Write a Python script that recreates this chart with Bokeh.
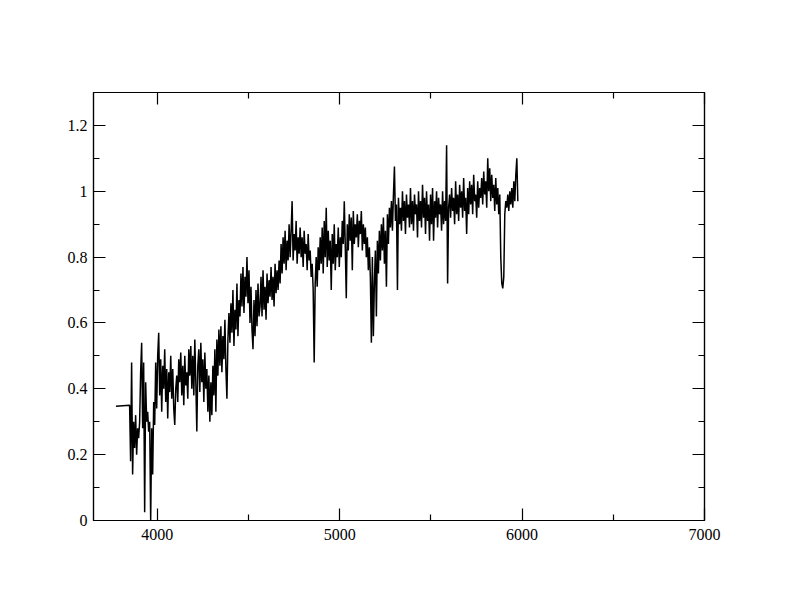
from bokeh.plotting import figure
from bokeh.models import Range1d, FixedTicker, LinearAxis, Label
from bokeh.embed import file_html
from bokeh.resources import INLINE

# ---- data (wavelength in Angstrom, normalised flux) ----
lead_wave = [3773.0]
lead_flux = [0.347]
wave_start = 3848.0
wave_step = 5.5
flux = [
    0.35, 0.18, 0.48, 0.14, 0.30, 0.22, 0.32, 0.20, 0.28, 0.25,
    0.30, 0.45, 0.54, 0.28, 0.48, 0.025, 0.42, 0.30, 0.33, 0.27,
    0.30, 0.00, 0.28, 0.14, 0.36, 0.29, 0.48, 0.34, 0.50, 0.57,
    0.38, 0.49, 0.33, 0.47, 0.40, 0.52, 0.36, 0.46, 0.31, 0.45,
    0.39, 0.50, 0.37, 0.46, 0.34, 0.29, 0.40, 0.44, 0.36, 0.49,
    0.42, 0.51, 0.38, 0.47, 0.35, 0.50, 0.41, 0.45, 0.37, 0.52,
    0.44, 0.53, 0.40, 0.50, 0.38, 0.55, 0.42, 0.27, 0.47, 0.52,
    0.39, 0.54, 0.42, 0.49, 0.36, 0.51, 0.40, 0.46, 0.33, 0.44,
    0.30, 0.42, 0.32, 0.47, 0.38, 0.52, 0.33, 0.55, 0.44, 0.58,
    0.47, 0.59, 0.45, 0.56, 0.49, 0.61, 0.46, 0.37, 0.55, 0.63,
    0.54, 0.66, 0.57, 0.70, 0.53, 0.64, 0.58, 0.72, 0.56, 0.67,
    0.62, 0.75, 0.65, 0.77, 0.63, 0.74, 0.68, 0.80, 0.66, 0.76,
    0.60, 0.71, 0.58, 0.52, 0.67, 0.56, 0.70, 0.59, 0.72, 0.62,
    0.65, 0.74, 0.62, 0.76, 0.64, 0.71, 0.61, 0.75, 0.66, 0.73,
    0.68, 0.77, 0.67, 0.74, 0.65, 0.78, 0.69, 0.76, 0.70, 0.79,
    0.72, 0.84, 0.75, 0.86, 0.78, 0.88, 0.76, 0.85, 0.79, 0.90,
    0.80, 0.88, 0.97, 0.79, 0.87, 0.82, 0.91, 0.78, 0.86, 0.81,
    0.89, 0.80, 0.86, 0.77, 0.88, 0.81, 0.84, 0.76, 0.87, 0.79,
    0.82, 0.74, 0.78, 0.70, 0.48, 0.72, 0.80, 0.71, 0.83, 0.76,
    0.86, 0.78, 0.89, 0.75, 0.91, 0.80, 0.95, 0.77, 0.88, 0.79,
    0.85, 0.70, 0.87, 0.78, 0.90, 0.76, 0.84, 0.80, 0.89, 0.77,
    0.86, 0.80, 0.91, 0.84, 0.97, 0.83, 0.675, 0.90, 0.82, 0.93,
    0.85, 0.92, 0.76, 0.94, 0.84, 0.90, 0.86, 0.93, 0.83, 0.91,
    0.87, 0.94, 0.82, 0.90, 0.84, 0.89, 0.80, 0.86, 0.76, 0.83,
    0.74, 0.54, 0.80, 0.56, 0.72, 0.82, 0.62, 0.85, 0.75, 0.88,
    0.79, 0.90, 0.82, 0.92, 0.78, 0.88, 0.71, 0.93, 0.84, 0.95,
    0.89, 0.97, 0.88, 0.99, 1.075, 0.91, 0.96, 0.70, 0.98, 0.90,
    0.95, 0.88, 1.00, 0.91, 0.97, 0.87, 0.99, 0.92, 0.96, 0.89,
    1.01, 0.90, 0.97, 0.88, 0.99, 0.93, 0.96, 0.86, 1.00, 0.91,
    0.97, 0.89, 1.02, 0.92, 0.98, 0.87, 1.00, 0.91, 0.96, 0.85,
    0.99, 0.90, 1.01, 0.85, 0.97, 0.92, 1.00, 0.89, 0.98, 0.93,
    0.96, 0.88, 1.00, 0.90, 0.97, 0.91, 1.14, 0.72, 0.95, 0.99,
    0.92, 1.01, 0.94, 0.98, 0.90, 1.03, 0.93, 0.99, 0.91, 1.02,
    0.95, 1.00, 0.92, 1.04, 0.94, 0.98, 0.87, 1.01, 0.93, 1.03,
    0.96, 1.02, 0.93, 1.05, 0.97, 0.99, 0.92, 1.03, 0.95, 1.01,
    0.98, 1.04, 0.96, 1.06, 0.99, 1.03, 0.95, 1.10, 1.00, 1.07,
    0.97, 1.05, 0.98, 1.02, 0.94, 1.04, 0.96, 1.01, 0.93, 0.99,
    0.80, 0.72, 0.705, 0.74, 0.93, 0.97, 0.95, 0.99, 0.94, 1.00,
    0.96, 1.01, 0.95, 1.03, 0.97, 1.05, 1.10, 0.97,
]
x_major = [4000, 5000, 6000, 7000]
x_minor = [4500, 5500, 6500]
y_major = [0, 0.2, 0.4, 0.6, 0.8, 1.0, 1.2]
y_minor = [0.1, 0.3, 0.5, 0.7, 0.9, 1.1]
title_text = "NB34-AU015"
subtitle_text = "Binospec data"

wave = lead_wave + [wave_start + wave_step * i for i in range(len(flux))]
fl = lead_flux + flux

FONT = "Liberation Serif"

p = figure(width=776, height=596, output_backend="svg", toolbar_location=None,
           title=None, x_range=Range1d(3650, 7000), y_range=Range1d(0, 1.3),
           min_border_left=93, min_border_right=72, min_border_top=92,
           min_border_bottom=76, x_axis_type=None, y_axis_type=None)
p.background_fill_color = "white"
p.border_fill_color = "white"
p.outline_line_color = "black"
p.outline_line_width = 1.2
p.xgrid.visible = False
p.ygrid.visible = False

def make_axis(ticks, minor, show_labels, standoff):
    ax = LinearAxis(ticker=FixedTicker(ticks=ticks, minor_ticks=minor))
    ax.axis_line_color = "black"
    ax.axis_line_width = 1.2
    ax.major_tick_in = 12
    ax.major_tick_out = 0
    ax.minor_tick_in = 6
    ax.minor_tick_out = 0
    ax.major_tick_line_color = "black"
    ax.minor_tick_line_color = "black"
    ax.major_tick_line_width = 1.2
    ax.minor_tick_line_width = 1.2
    ax.major_label_text_font = FONT
    ax.major_label_text_font_size = "16px" if show_labels else "0px"
    ax.major_label_text_color = "black" if show_labels else None
    ax.major_label_standoff = standoff
    return ax

bottom = make_axis(x_major, x_minor, True, 8)
top = make_axis(x_major, x_minor, False, 0)
left = make_axis(y_major, y_minor, True, 6)
left.major_label_overrides = {0: "0", 1: "1"}
right = make_axis(y_major, y_minor, False, 0)
p.add_layout(top, "above")
p.add_layout(bottom, "below")
p.add_layout(left, "left")
p.add_layout(right, "right")

# screen units here are measured from the frame's bottom-left corner
p.add_layout(Label(x=304, y=465, x_units="screen", y_units="screen",
                   text=title_text, text_align="center", text_baseline="alphabetic",
                   text_font=FONT, text_font_size="26px", text_color="black"))
p.add_layout(Label(x=305, y=445, x_units="screen", y_units="screen",
                   text=subtitle_text, text_align="center", text_baseline="alphabetic",
                   text_font=FONT, text_font_size="17px", text_color="black"))

p.line(wave, fl, line_color="black", line_width=1.5)

open("out.html", "w").write(file_html(p, INLINE))
